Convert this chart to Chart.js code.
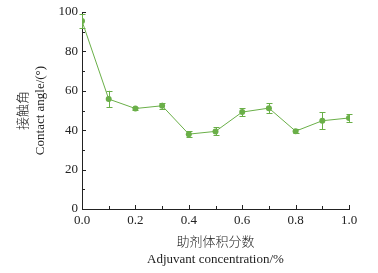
<!DOCTYPE html>
<html>
<head>
<meta charset="utf-8">
<script src="https://cdn.jsdelivr.net/npm/chart.js@4/dist/chart.umd.min.js"></script>
<style>
html,body{margin:0;padding:0;background:#fff;}
#wrap{width:378px;height:273px;position:relative;}
</style>
</head>
<body>
<div id="wrap"><canvas id="c" width="378" height="273"></canvas></div>
<script>
const concentrations = [0.0, 0.1, 0.2, 0.3, 0.4, 0.5, 0.6, 0.7, 0.8, 0.9, 1.0];
const contactAngle = [95.4, 55.8, 51.0, 52.4, 38.0, 39.4, 49.2, 51.2, 39.5, 44.8, 46.2];
const errorValues = [3.5, 4.2, 0.8, 1.5, 1.5, 2.0, 2.0, 2.5, 1.0, 4.2, 2.0];
const yTickLabels = ['0', '20', '40', '60', '80', '100'];
const xTickLabels = ['0.0', '0.2', '0.4', '0.6', '0.8', '1.0'];
const xTitleLines = ['助剂体积分数', 'Adjuvant concentration/%'];
const yTitleLines = ['接触角', 'Contact angle/(°)'];

const GREEN = '#6aaf48';
const AXIS = '#222';
const FONT = "'Liberation Serif', 'Noto Sans CJK SC', serif";

const points = concentrations.map((x, i) => ({x: x, y: contactAngle[i]}));

const errorBarPlugin = {
  id: 'errorBars',
  beforeDatasetsDraw(chart) {
    const ctx = chart.ctx;
    const xs = chart.scales.x, ys = chart.scales.y;
    ctx.save();
    ctx.strokeStyle = GREEN;
    ctx.lineWidth = 1;
    concentrations.forEach((xv, i) => {
      const px = Math.round(xs.getPixelForValue(xv)) + 0.5;
      const top = ys.getPixelForValue(contactAngle[i] + errorValues[i]);
      const bot = ys.getPixelForValue(contactAngle[i] - errorValues[i]);
      ctx.beginPath();
      ctx.moveTo(px, top); ctx.lineTo(px, bot);
      ctx.moveTo(px - 3, Math.round(top) + 0.5); ctx.lineTo(px + 3, Math.round(top) + 0.5);
      ctx.moveTo(px - 3, Math.round(bot) + 0.5); ctx.lineTo(px + 3, Math.round(bot) + 0.5);
      ctx.stroke();
    });
    ctx.restore();
  }
};

const innerTicksPlugin = {
  id: 'innerTicks',
  afterDraw(chart) {
    const ctx = chart.ctx;
    const ca = chart.chartArea;
    const xs = chart.scales.x, ys = chart.scales.y;
    ctx.save();
    ctx.strokeStyle = AXIS;
    ctx.lineWidth = 1;
    ctx.beginPath();
    ys.ticks.forEach(t => {
      const p = Math.round(ys.getPixelForValue(t.value)) + 0.5;
      const major = Math.round(t.value) % 20 === 0;
      ctx.moveTo(ca.left, p); ctx.lineTo(ca.left + (major ? 4 : 3), p);
    });
    xs.ticks.forEach(t => {
      const p = Math.round(xs.getPixelForValue(t.value)) + 0.5;
      const major = Math.round(t.value * 10) % 2 === 0;
      ctx.moveTo(p, ca.bottom); ctx.lineTo(p, ca.bottom - (major ? 4 : 3));
    });
    ctx.stroke();
    ctx.restore();
  }
};

new Chart(document.getElementById('c'), {
  type: 'scatter',
  data: {
    datasets: [{
      data: points,
      showLine: true,
      borderColor: GREEN,
      backgroundColor: GREEN,
      borderWidth: 1,
      pointRadius: 3,
      pointBorderWidth: 0,
      pointBackgroundColor: GREEN,
      tension: 0
    }]
  },
  options: {
    responsive: false,
    animation: false,
    devicePixelRatio: 1,
    layout: {padding: {left: 0, right: 29, top: 12, bottom: 0}},
    plugins: {legend: {display: false}, tooltip: {enabled: false}},
    scales: {
      x: {
        type: 'linear',
        min: 0, max: 1,
        afterFit(scale) { scale.height = 64; },
        ticks: {
          stepSize: 0.1,
          padding: 4,
          color: AXIS,
          font: {family: FONT, size: 13},
          maxRotation: 0,
          autoSkip: false,
          callback(v) {
            const k = Math.round(v * 10);
            return k % 2 === 0 ? xTickLabels[k / 2] : '';
          }
        },
        grid: {display: true, drawOnChartArea: false, drawTicks: false},
        border: {display: true, color: AXIS, width: 1},
        title: {
          display: true,
          text: xTitleLines,
          color: AXIS,
          font: {family: FONT, size: 13, weight: '300', lineHeight: 1.28},
          padding: {top: 0, bottom: 5.5}
        }
      },
      y: {
        type: 'linear',
        min: 0, max: 100,
        afterFit(scale) { scale.width = 82; },
        ticks: {
          stepSize: 10,
          padding: 4,
          color: AXIS,
          font: {family: FONT, size: 13},
          autoSkip: false,
          callback(v) {
            const k = Math.round(v);
            return k % 20 === 0 ? yTickLabels[k / 20] : '';
          }
        },
        grid: {display: true, drawOnChartArea: false, drawTicks: false},
        border: {display: true, color: AXIS, width: 1},
        title: {
          display: true,
          text: yTitleLines,
          color: AXIS,
          font: {family: FONT, size: 13, weight: '300', lineHeight: 1.3},
          padding: {top: 15, bottom: 0}
        }
      }
    }
  },
  plugins: [errorBarPlugin, innerTicksPlugin]
});
</script>
</body>
</html>
